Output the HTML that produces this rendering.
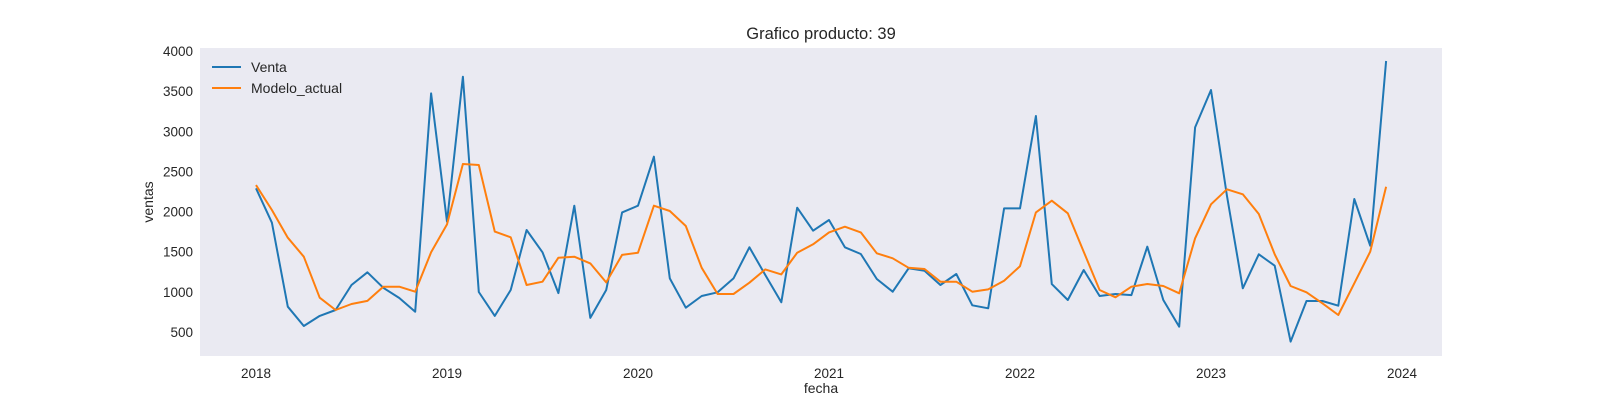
<!DOCTYPE html>
<html><head><meta charset="utf-8"><style>
body{margin:0;background:#fff}
svg{display:block;font-family:"Liberation Sans",Arial,sans-serif}
</style></head><body>
<svg id="chart" width="1600" height="400" viewBox="0 0 1600 400" xmlns="http://www.w3.org/2000/svg">
<rect x="200" y="48" width="1242" height="308" fill="#eaeaf2"/>
<text x="821" y="39" text-anchor="middle" font-size="16.5" fill="#262626">Grafico producto: 39</text>
<text x="821" y="393" text-anchor="middle" font-size="14" fill="#262626">fecha</text>
<text transform="translate(153,202) rotate(-90)" text-anchor="middle" font-size="14" fill="#262626">ventas</text>
<g id="yticks"></g><g id="xticks"></g><g id="series"></g>
<g>
<line x1="212" y1="67" x2="241" y2="67" stroke="#1f77b4" stroke-width="2"/>
<text x="251" y="72" font-size="14" fill="#262626">Venta</text>
<line x1="212" y1="88" x2="241" y2="88" stroke="#ff7f0e" stroke-width="2"/>
<text x="251" y="93" font-size="14" fill="#262626">Modelo_actual</text>
</g>
</svg>
<script>
const startYear = 2018;
const yTicks = [500,1000,1500,2000,2500,3000,3500,4000];
const xTickYears = [2018,2019,2020,2021,2022,2023,2024];
const venta = [2290,1861,815,575,700,774,1085,1243,1050,923,753,3472,
 1874,3680,998,700,1023,1770,1493,985,2073,675,1023,1990,
 2073,2683,1168,803,948,994,1168,1555,1210,870,2048,1762,
 1895,1555,1471,1160,1002,1293,1264,1085,1222,832,795,2040,
 2040,3190,1097,898,1272,948,973,960,1562,898,566,3049,
 3514,2200,1044,1468,1326,380,886,886,827,2156,1575,3875];
const modelo = [2330,2019,1674,1438,927,774,849,887,1064,1064,1002,1493,
 1840,2592,2580,1750,1680,1085,1126,1425,1438,1355,1118,1460,
 1488,2073,2007,1820,1300,973,973,1114,1280,1218,1488,1592,
 1741,1811,1741,1480,1418,1300,1285,1126,1126,1002,1031,1139,
 1320,1990,2135,1978,1500,1023,932,1064,1098,1073,982,1667,
 2090,2277,2215,1970,1468,1073,994,857,712,1106,1500,2310];
const NS="http://www.w3.org/2000/svg";
function xScale(m){return 256 + m*(1146/72);}
function yScale(v){return 332 - (v-500)*(281/3500);}
const svg=document.getElementById('chart');
const yg=document.getElementById('yticks');
yTicks.forEach(v=>{
 const t=document.createElementNS(NS,'text');
 
 
 t.setAttribute('x',193);t.setAttribute('y',yScale(v)+5);
 t.setAttribute('text-anchor','end');t.setAttribute('font-size','13.5');t.setAttribute('fill','#262626');
 t.textContent=v;yg.appendChild(t);
});
const xg=document.getElementById('xticks');
xTickYears.forEach(y=>{
 const t=document.createElementNS(NS,'text');
 
 
 t.setAttribute('x',xScale((y-startYear)*12));t.setAttribute('y',378);
 t.setAttribute('text-anchor','middle');t.setAttribute('font-size','13.5');t.setAttribute('fill','#262626');
 t.textContent=y;xg.appendChild(t);
});
const sg=document.getElementById('series');
function draw(arr,color,name){
 const p=document.createElementNS(NS,'polyline');
 
 
 p.setAttribute('points',arr.map((v,i)=>xScale(i).toFixed(1)+','+yScale(v).toFixed(1)).join(' '));
 p.setAttribute('fill','none');p.setAttribute('stroke',color);p.setAttribute('stroke-width','2');
 p.setAttribute('stroke-linejoin','round');
 sg.appendChild(p);
}
draw(venta,'#1f77b4','venta-line');
draw(modelo,'#ff7f0e','modelo-actual-line');
</script>
</body></html>
